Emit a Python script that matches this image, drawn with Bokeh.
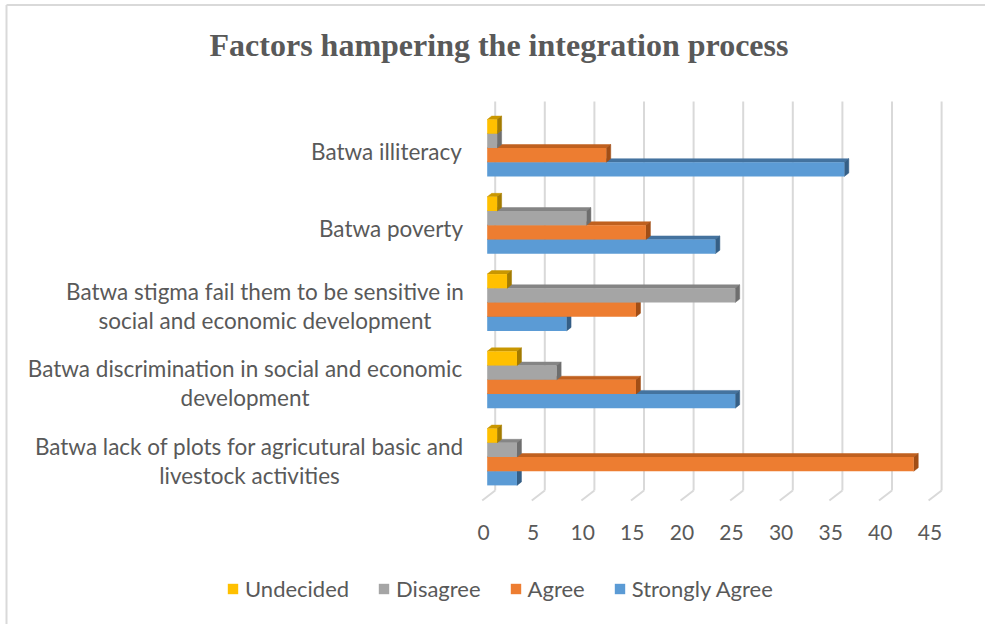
from bokeh.plotting import figure
from bokeh.models import Range1d, Legend, LegendItem
from bokeh.core.properties import value
from bokeh.embed import file_html
from bokeh.resources import INLINE

# ---------------- data ----------------
title_text = "Factors hampering the integration process"
category_lines = [
    ["Batwa lack of plots for agricutural basic and", "livestock activities"],
    ["Batwa discrimination in social and economic", "development"],
    ["Batwa stigma fail them to be sensitive in", "social and economic development"],
    ["Batwa poverty"],
    ["Batwa illiteracy"],
]
series_names = ["Undecided", "Disagree", "Agree", "Strongly Agree"]
undecided = [1, 3, 2, 1, 1]
disagree = [3, 7, 25, 10, 1]
agree = [43, 15, 15, 16, 12]
strongly_agree = [3, 25, 8, 23, 36]
x_ticks = [0, 5, 10, 15, 20, 25, 30, 35, 40, 45]

# ---------------- styles / layout ----------------
front_colors = ["#FFC000", "#A5A5A5", "#ED7D31", "#5B9BD5"]
top_colors = ["#C99700", "#858585", "#C0601F", "#44739F"]
side_colors = ["#A37B00", "#6E6E6E", "#A14E16", "#355F86"]
text_color = "#595959"
grid_color = "#D9D9D9"
FONT = "Lato"

W, H = 985, 624
X0, UX = 486.7, 9.92     # px of value 0, px per unit
Y0, UY = 456.5, 77.25    # px of first category, px per category


def xd(px):
    return (px - X0) / UX


def yd(py):
    return (Y0 - py) / UY


BH = 14.2 / UY                # bar thickness
DX, DY = 4.5 / UX, 3.5 / UY   # 3D depth of bars
GRID_DX = 8.0 / UX            # back wall offset
FLOOR_DX = -5.0 / UX          # front floor offset
label_center_px = [249, 244.5, 264.5, 390.5, 386]

p = figure(width=W, height=H, x_range=Range1d(xd(0), xd(W)),
           y_range=Range1d(yd(H), yd(0)), toolbar_location=None,
           output_backend="svg", x_axis_location=None, y_axis_location=None,
           min_border=0)
p.grid.visible = False
p.outline_line_color = None
p.background_fill_color = "white"
p.border_fill_color = "white"

# chart border (left / top)
p.segment(x0=[xd(6), xd(6)], y0=[yd(4.5), yd(4.5)], x1=[xd(6), xd(W)],
          y1=[yd(H), yd(4.5)], line_color=grid_color, line_width=2)

# gridlines on back wall + floor diagonals
p.segment(x0=[t + GRID_DX for t in x_ticks], y0=yd(490),
          x1=[t + GRID_DX for t in x_ticks], y1=yd(101),
          line_color=grid_color, line_width=2)
p.segment(x0=[t + FLOOR_DX for t in x_ticks], y0=yd(500),
          x1=[t + GRID_DX for t in x_ticks], y1=yd(490),
          line_color=grid_color, line_width=2)

series_values = [undecided, disagree, agree, strongly_agree]
cats = list(range(len(category_lines)))
front_renderers = {}
for s in [3, 2, 1, 0]:
    vals = series_values[s]
    yc = [i + (1.5 - s) * BH for i in cats]
    bottoms = [y - BH / 2 for y in yc]
    tops = [y + BH / 2 for y in yc]
    # top face
    p.patches(xs=[[0, v, v + DX, DX] for v in vals],
              ys=[[t, t, t + DY, t + DY] for t in tops],
              fill_color=top_colors[s], line_color=top_colors[s], line_width=0.5)
    # side face
    p.patches(xs=[[v, v + DX, v + DX, v] for v in vals],
              ys=[[b, b + DY, t + DY, t] for b, t in zip(bottoms, tops)],
              fill_color=side_colors[s], line_color=side_colors[s], line_width=0.5)
    # front face
    front_renderers[s] = p.quad(left=0, right=vals, bottom=bottoms, top=tops,
                                fill_color=front_colors[s], line_color=None)

# x tick labels
p.text(x=x_ticks, y=yd(532.3), text=[str(t) for t in x_ticks], x_offset=-3.7,
       text_align="center", text_baseline="alphabetic",
       text_font=value(FONT), text_font_size="21px", text_color=text_color)

# category labels
lx, ly, lt = [], [], []
for i, lines in enumerate(category_lines):
    offs = [3.5] if len(lines) == 1 else [-11.0, 18.0]
    for line, o in zip(lines, offs):
        lx.append(xd(label_center_px[i]))
        ly.append(i - o / UY)
        lt.append(line)
p.text(x=lx, y=ly, text=lt, text_align="center", text_baseline="alphabetic",
       text_font=value(FONT), text_font_size="22.5px", text_color=text_color)

# title
p.text(x=[xd(498.5)], y=[yd(44.5)], text=[title_text], text_align="center",
       text_baseline="alphabetic", text_font=value("Liberation Serif"),
       text_font_style="bold", text_font_size="32px", text_color=text_color)

legend = Legend(items=[LegendItem(label=series_names[s], renderers=[front_renderers[s]])
                       for s in range(4)],
                orientation="horizontal", location=(226, 22),
                glyph_width=13, glyph_height=13, label_standoff=6, spacing=28,
                padding=0, margin=0, border_line_alpha=0, background_fill_alpha=0,
                label_text_font=FONT, label_text_font_size="22px",
                label_text_color=text_color)
p.add_layout(legend)

open("out.html", "w").write(file_html(p, INLINE))
